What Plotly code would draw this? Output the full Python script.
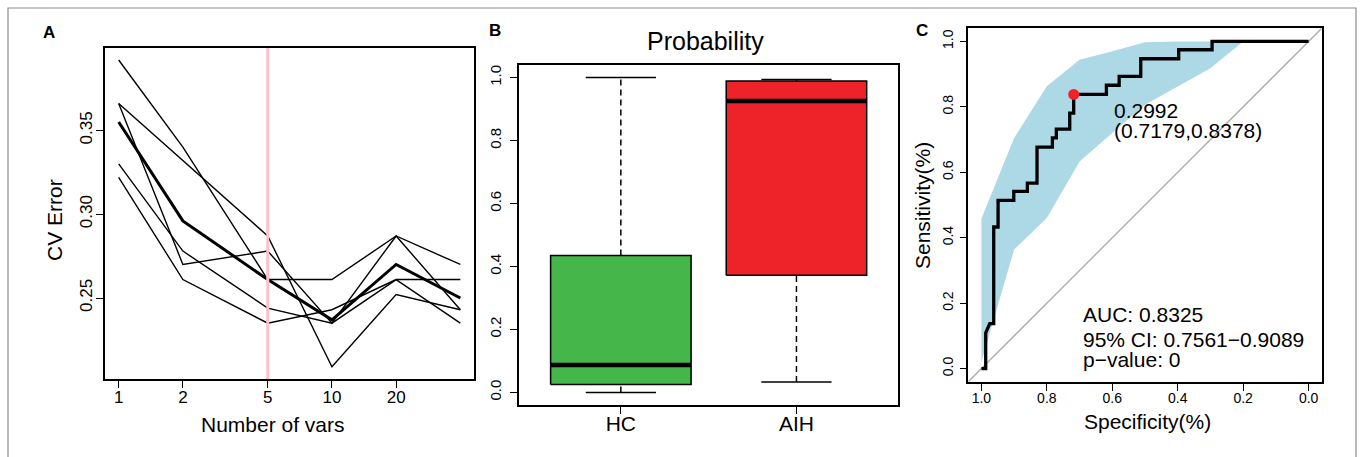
import plotly.graph_objects as go
import numpy as np

W, H = 1362, 457
FONT = "Liberation Sans, Arial, Helvetica, sans-serif"

# ---------------- Panel A: rfcv CV error ----------------
n_vars = [1, 2, 5, 10, 20, 40]
cv_fold1 = [0.392, 0.340, 0.261, 0.261, 0.287, 0.270]
cv_fold2 = [0.366, 0.332, 0.287, 0.209, 0.252, 0.243]
cv_fold3 = [0.366, 0.270, 0.278, 0.235, 0.287, 0.243]
cv_fold4 = [0.330, 0.278, 0.244, 0.235, 0.261, 0.235]
cv_fold5 = [0.322, 0.261, 0.235, 0.243, 0.261, 0.261]
cv_mean = [0.355, 0.296, 0.261, 0.237, 0.270, 0.250]
selected_n = 5
a_xticks = [1, 2, 5, 10, 20]
a_yticks = [0.25, 0.30, 0.35]

# ---------------- Panel B: probability boxplot ----------------
groups = ["HC", "AIH"]
prob_low = [0.000, 0.033]
prob_q1 = [0.025, 0.372]
prob_med = [0.087, 0.926]
prob_q3 = [0.435, 0.989]
prob_high = [1.000, 0.994]
group_colors = ["#45B649", "#EE2229"]
b_yticks = [0.0, 0.2, 0.4, 0.6, 0.8, 1.0]

# ---------------- Panel C: ROC ----------------
roc_spec = [1.0, 0.9868, 0.9868, 0.9745, 0.9623, 0.9623, 0.949, 0.949, 0.901, 0.901,
            0.8595, 0.8595, 0.830, 0.830, 0.783, 0.783, 0.771, 0.771, 0.730, 0.730,
            0.7179, 0.7179, 0.618, 0.618, 0.579, 0.579, 0.513, 0.513, 0.397, 0.397,
            0.295, 0.295, 0.0]
roc_sens = [0.0, 0.0, 0.109, 0.1375, 0.1375, 0.4328, 0.4328, 0.514, 0.514, 0.5418,
            0.5418, 0.567, 0.567, 0.677, 0.677, 0.705, 0.705, 0.732, 0.732, 0.781,
            0.781, 0.8378, 0.8378, 0.866, 0.866, 0.893, 0.893, 0.947, 0.947, 0.9745,
            0.9745, 1.0, 1.0]
ci_spec = [1.0, 0.9, 0.8, 0.7, 0.6, 0.5, 0.4, 0.3, 0.2, 0.1, 0.0]
ci_upper = [0.458, 0.705, 0.863, 0.944, 0.970, 0.997, 1.0, 1.0, 1.0, 1.0, 1.0]
ci_lower = [0.020, 0.364, 0.460, 0.633, 0.720, 0.806, 0.862, 0.918, 1.0, 1.0, 1.0]
best_thr = 0.2992
best_spec = 0.7179
best_sens = 0.8378
auc_value = 0.8325
auc_ci = [0.7561, 0.9089]
p_value = 0
c_ticks = [0.0, 0.2, 0.4, 0.6, 0.8, 1.0]


def px(x):
    return x / W


def py(y):
    return 1 - y / H


def rrange(lo, hi):
    d = (hi - lo) * 0.04
    return [lo - d, hi + d]


fig = go.Figure()

# ---- Panel A traces ----
for fold in [cv_fold1, cv_fold2, cv_fold3, cv_fold4, cv_fold5]:
    fig.add_trace(go.Scatter(x=n_vars, y=fold, mode="lines",
                             line=dict(color="black", width=1.4),
                             xaxis="x", yaxis="y", showlegend=False))
fig.add_trace(go.Scatter(x=n_vars, y=cv_mean, mode="lines",
                         line=dict(color="black", width=3),
                         xaxis="x", yaxis="y", showlegend=False))
all_cv = cv_fold1 + cv_fold2 + cv_fold3 + cv_fold4 + cv_fold5 + cv_mean
a_yr = rrange(min(all_cv), max(all_cv))
a_xr = rrange(np.log10(min(n_vars)), np.log10(max(n_vars)))
fig.add_trace(go.Scatter(x=[selected_n, selected_n], y=a_yr, mode="lines",
                         line=dict(color="#FFC0CB", width=3),
                         xaxis="x", yaxis="y", showlegend=False))

# ---- Panel B traces ----
bw = 0.8
for i, g in enumerate(groups):
    xc = i + 1
    # box
    fig.add_trace(go.Scatter(
        x=[xc - bw / 2, xc + bw / 2, xc + bw / 2, xc - bw / 2, xc - bw / 2],
        y=[prob_q1[i], prob_q1[i], prob_q3[i], prob_q3[i], prob_q1[i]],
        mode="lines", fill="toself", fillcolor=group_colors[i],
        line=dict(color="black", width=1.5),
        xaxis="x2", yaxis="y2", showlegend=False))
    # median
    fig.add_trace(go.Scatter(x=[xc - bw / 2, xc + bw / 2], y=[prob_med[i], prob_med[i]],
                             mode="lines", line=dict(color="black", width=4.5),
                             xaxis="x2", yaxis="y2", showlegend=False))
    # whiskers
    fig.add_trace(go.Scatter(x=[xc, xc], y=[prob_q3[i], prob_high[i]], mode="lines",
                             line=dict(color="black", width=1.5, dash="6px,4px"),
                             xaxis="x2", yaxis="y2", showlegend=False))
    fig.add_trace(go.Scatter(x=[xc, xc], y=[prob_low[i], prob_q1[i]], mode="lines",
                             line=dict(color="black", width=1.5, dash="6px,4px"),
                             xaxis="x2", yaxis="y2", showlegend=False))
    # staples
    for v in [prob_low[i], prob_high[i]]:
        fig.add_trace(go.Scatter(x=[xc - bw / 4, xc + bw / 4], y=[v, v], mode="lines",
                                 line=dict(color="black", width=1.5),
                                 xaxis="x2", yaxis="y2", showlegend=False))
b_xr = rrange(0.5, len(groups) + 0.5)
b_yr = rrange(0.0, 1.0)

# ---- Panel C traces ----
c_r = rrange(0.0, 1.0)
fig.add_trace(go.Scatter(x=ci_spec + ci_spec[::-1], y=ci_upper + ci_lower[::-1],
                         mode="lines", fill="toself", fillcolor="#ADD8E6",
                         line=dict(width=0, color="#ADD8E6"),
                         xaxis="x3", yaxis="y3", showlegend=False))
fig.add_trace(go.Scatter(x=[c_r[1], c_r[0]], y=[1 - c_r[1], 1 - c_r[0]], mode="lines",
                         line=dict(color="#A9A9A9", width=1.3),
                         xaxis="x3", yaxis="y3", showlegend=False))
fig.add_trace(go.Scatter(x=roc_spec, y=roc_sens, mode="lines",
                         line=dict(color="black", width=3.3),
                         xaxis="x3", yaxis="y3", showlegend=False))
fig.add_trace(go.Scatter(x=[best_spec], y=[best_sens], mode="markers",
                         marker=dict(color="#EE2229", size=11),
                         xaxis="x3", yaxis="y3", showlegend=False))

axis_common = dict(showgrid=False, zeroline=False, showline=True, mirror=True,
                   linecolor="black", linewidth=1.6, ticks="outside", ticklen=7,
                   tickwidth=1.4, tickcolor="black",
                   tickfont=dict(family=FONT, color="black"))

fig.update_layout(
    width=W, height=H, margin=dict(l=0, r=0, t=0, b=0),
    paper_bgcolor="white", plot_bgcolor="white",
    font=dict(family=FONT, color="black"),
    xaxis=dict(axis_common, type="log", range=a_xr, domain=[px(105), px(474)],
               anchor="y", tickvals=a_xticks, ticktext=[str(t) for t in a_xticks],
               tickfont=dict(family=FONT, size=17, color="black"), ticklabelstandoff=-5),
    yaxis=dict(axis_common, range=a_yr, domain=[py(379), py(47.7)], anchor="x",
               tickvals=a_yticks, ticktext=["%.2f" % t for t in a_yticks], tickangle=-90,
               tickfont=dict(family=FONT, size=17, color="black"), ticklabelstandoff=-3),
    xaxis2=dict(axis_common, range=b_xr, domain=[px(519), px(898.3)], anchor="y2",
                tickvals=[1, 2], ticktext=groups,
                tickfont=dict(family=FONT, size=21, color="black"), ticklabelstandoff=-8),
    yaxis2=dict(axis_common, range=b_yr, domain=[py(405), py(65)], anchor="x2",
                tickvals=b_yticks, ticktext=["%.1f" % t for t in b_yticks], tickangle=-90,
                tickfont=dict(family=FONT, size=15, color="black"), ticklabelstandoff=3),
    xaxis3=dict(axis_common, range=[c_r[1], c_r[0]], domain=[px(968.3), px(1321.7)],
                anchor="y3", tickvals=c_ticks, ticktext=["%.1f" % t for t in c_ticks],
                tickfont=dict(family=FONT, size=14, color="black"), ticklabelstandoff=-4),
    yaxis3=dict(axis_common, range=c_r, domain=[py(381.7), py(28.3)], anchor="x3",
                tickvals=c_ticks, ticktext=["%.1f" % t for t in c_ticks], tickangle=-90,
                tickfont=dict(family=FONT, size=14, color="black"), ticklabelstandoff=1),
)

ann = []


def add_text(text, x, y, size, rot=0, bold=False, xanchor="center"):
    ann.append(dict(text=("<b>%s</b>" % text) if bold else text, x=px(x), y=py(y),
                    xref="paper", yref="paper", showarrow=False, textangle=rot,
                    xanchor=xanchor, yanchor="middle",
                    font=dict(family=FONT, size=size, color="black")))


add_text("A", 49, 32, 17, bold=True)
add_text("B", 495, 31, 17, bold=True)
add_text("C", 922, 31, 17, bold=True)
add_text("CV Error", 54, 220, 21, rot=-90)
add_text("Number of vars", 273, 424, 21)
add_text("Probability", 705, 41, 25)
add_text("Sensitivity(%)", 922, 206, 21, rot=-90)
add_text("Specificity(%)", 1147, 421, 21)


# panel C texts in data coordinates
def add_c_text(text, x, y):
    ann.append(dict(text=text, x=x, y=y, xref="x3", yref="y3", showarrow=False,
                    xanchor="left", yanchor="middle",
                    font=dict(family=FONT, size=21, color="black")))


add_c_text("%.4f" % best_thr, best_spec - 0.118, best_sens - 0.05)
add_c_text("(%.4f,%.4f)" % (best_spec, best_sens), best_spec - 0.118, best_sens - 0.111)
add_c_text("AUC: %.4f" % auc_value, 0.697, 0.165)
add_c_text("95%% CI: %.4f\u2212%.4f" % (auc_ci[0], auc_ci[1]), 0.697, 0.089)
add_c_text("p\u2212value: %d" % p_value, 0.697, 0.027)

fig.update_layout(annotations=ann)

# outer gray frame
fig.add_shape(type="rect", xref="paper", yref="paper", x0=px(8), x1=px(1356),
              y0=-0.02, y1=py(8), line=dict(color="#8C8C8C", width=1.2), layer="below")

fig.write_html("out.html")
